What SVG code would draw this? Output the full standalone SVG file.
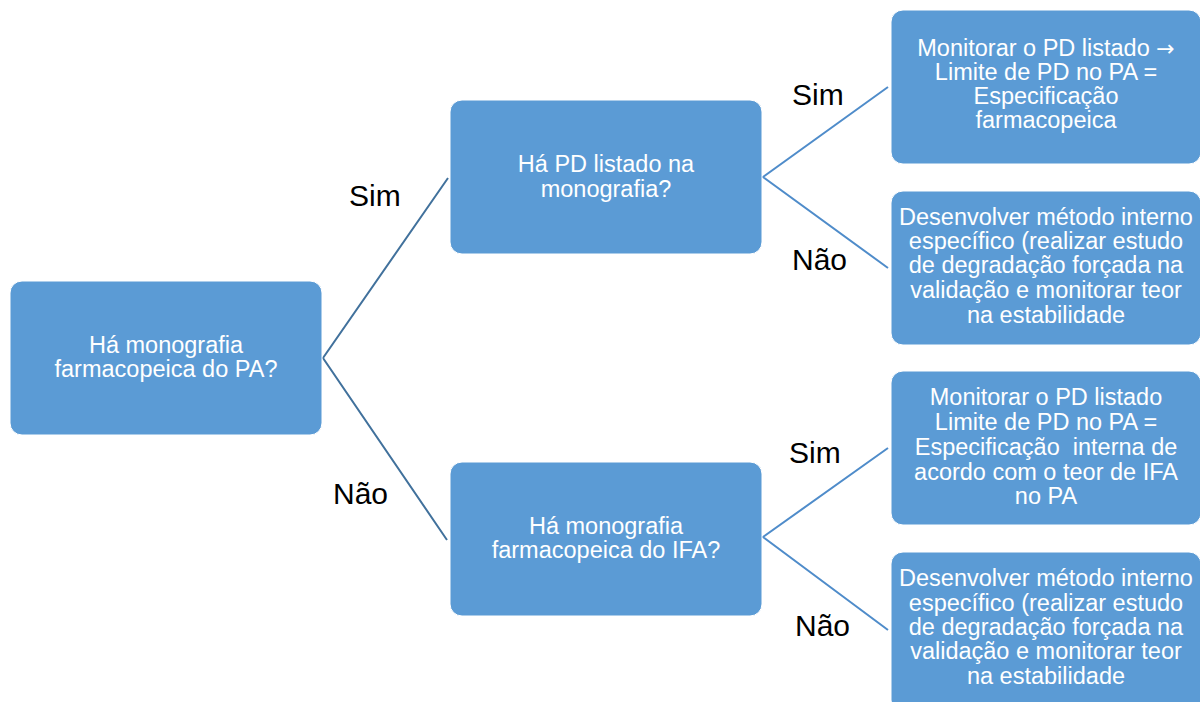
<svg xmlns="http://www.w3.org/2000/svg" width="1200" height="702" viewBox="0 0 1200 702">
<style>
.box{fill:#5b9bd5;stroke:#ffffff;stroke-width:1}
.t{font-family:"Liberation Sans",Arial,sans-serif;font-size:23.5px;fill:#ffffff;text-anchor:middle}
.arr{font-family:"DejaVu Sans",sans-serif;font-size:22px}
.lbl{font-family:"Liberation Sans",Arial,sans-serif;font-size:30px;fill:#000000}
.c1{stroke:#41719c;stroke-width:2;fill:none}
.c2{stroke:#4f8cca;stroke-width:2;fill:none}
</style>
<rect width="1200" height="702" fill="#ffffff"/>
<g id="connectors">
<polyline class="c1" points="448,178 323,358 447,540"/>
<polyline class="c2" points="888,87 763,177 888,268"/>
<polyline class="c2" points="888,448 763,537 888,630"/>
</g>
<g id="labels">
<text class="lbl" x="349" y="206">Sim</text>
<text class="lbl" x="333" y="504">Não</text>
<text class="lbl" x="792" y="105">Sim</text>
<text class="lbl" x="792" y="270">Não</text>
<text class="lbl" x="789" y="463">Sim</text>
<text class="lbl" x="795" y="636">Não</text>
</g>
<g id="n-root">
<rect class="box" x="10" y="281" width="312" height="154" rx="12"/>
<text class="t" x="166" y="353">Há monografia</text>
<text class="t" x="166" y="377">farmacopeica do PA?</text>
</g>
<g id="n-pd">
<rect class="box" x="450" y="100" width="312" height="154" rx="12"/>
<text class="t" x="606" y="172">Há PD listado na</text>
<text class="t" x="606" y="197">monografia?</text>
</g>
<g id="n-ifa">
<rect class="box" x="450" y="462" width="312" height="154" rx="12"/>
<text class="t" x="606" y="534">Há monografia</text>
<text class="t" x="606" y="558">farmacopeica do IFA?</text>
</g>
<g id="n-r1">
<rect class="box" x="891" y="10" width="310" height="154" rx="12"/>
<text class="t" x="1046" y="56">Monitorar o PD listado <tspan class="arr">→</tspan></text>
<text class="t" x="1046" y="80">Limite de PD no PA =</text>
<text class="t" x="1046" y="104">Especificação</text>
<text class="t" x="1046" y="128">farmacopeica</text>
</g>
<g id="n-r2">
<rect class="box" x="891" y="191" width="310" height="154" rx="12"/>
<text class="t" x="1046" y="225">Desenvolver método interno</text>
<text class="t" x="1046" y="249">específico (realizar estudo</text>
<text class="t" x="1046" y="273">de degradação forçada na</text>
<text class="t" x="1046" y="298">validação e monitorar teor</text>
<text class="t" x="1046" y="323">na estabilidade</text>
</g>
<g id="n-r3">
<rect class="box" x="891" y="371" width="310" height="154" rx="12"/>
<text class="t" x="1046" y="405">Monitorar o PD listado</text>
<text class="t" x="1046" y="430">Limite de PD no PA =</text>
<text class="t" x="1046" y="455" xml:space="preserve">Especificação  interna de</text>
<text class="t" x="1046" y="480">acordo com o teor de IFA</text>
<text class="t" x="1046" y="504">no PA</text>
</g>
<g id="n-r4">
<rect class="box" x="891" y="552" width="310" height="160" rx="12"/>
<text class="t" x="1046" y="586">Desenvolver método interno</text>
<text class="t" x="1046" y="611">específico (realizar estudo</text>
<text class="t" x="1046" y="635">de degradação forçada na</text>
<text class="t" x="1046" y="659">validação e monitorar teor</text>
<text class="t" x="1046" y="684">na estabilidade</text>
</g>
</svg>
